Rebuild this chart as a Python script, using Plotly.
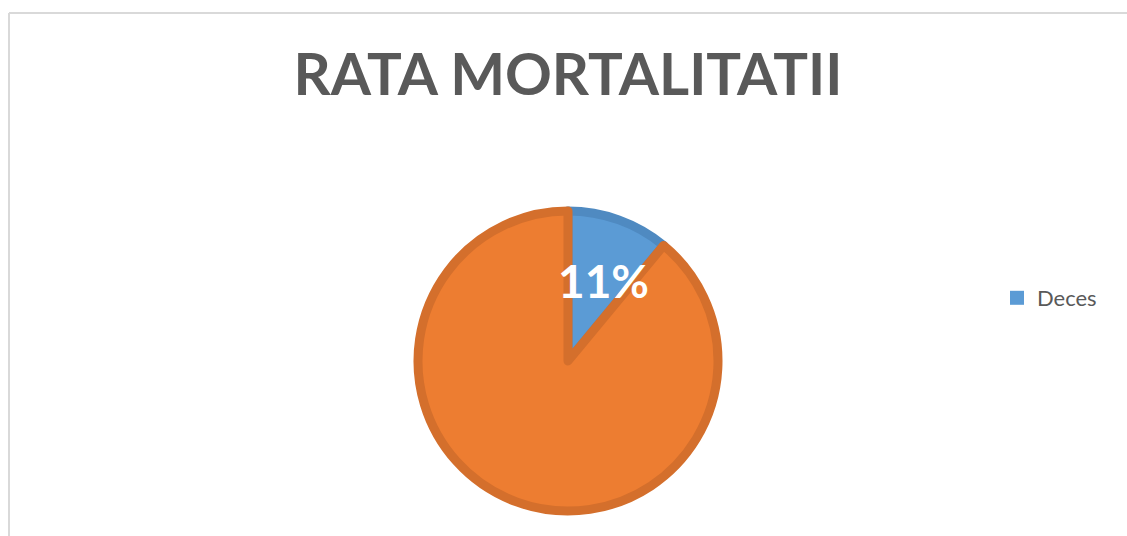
import math
import plotly.graph_objects as go

labels = ["Deces", "Supravietuitori"]
values = [11, 89]
colors = ["#5B9BD5", "#ED7D31"]
border_colors = ["#4F8AC1", "#D46F2C"]
title_text = "RATA MORTALITATII"

W, H = 1127, 536
cx, cy, R = 568, 361, 150  # pie centre/radius in figure pixels

dom_x = [(cx - R) / W, (cx + R) / W]
dom_y = [1 - (cy + R) / H, 1 - (cy - R) / H]

fig = go.Figure()
fig.add_trace(go.Pie(
    labels=labels, values=values, sort=False, direction="clockwise", rotation=0,
    marker=dict(colors=colors, line=dict(color=border_colors, width=9)),
    textinfo="none", hoverinfo="label+percent", showlegend=False,
    domain=dict(x=dom_x, y=dom_y),
))
# legend entry only for the first category
fig.add_trace(go.Scatter(
    x=[None], y=[None], mode="markers", name=labels[0],
    marker=dict(symbol="square", size=14, color=colors[0]),
))

total = sum(values)
frac = values[0] / total
ang = 2 * math.pi * frac / 2
px = cx + math.sin(ang) * R * 0.57
py = cy - math.cos(ang) * R * 0.57
fig.add_annotation(
    x=px / W, y=1 - py / H, xref="paper", yref="paper",
    text=f"<b>{round(frac * 100)}%</b>", showarrow=False,
    font=dict(family="Lato", size=46, color="white"),
    xanchor="center", yanchor="middle", xshift=7,
)

fig.update_layout(
    width=W, height=H,
    margin=dict(l=0, r=0, t=0, b=0),
    paper_bgcolor="white", plot_bgcolor="white",
    title=dict(text=f"<b>{title_text}</b>", x=cx / W, xanchor="center",
               y=1 - 75 / H, yanchor="middle",
               font=dict(family="Lato", size=58, color="#595959")),
    xaxis=dict(visible=False), yaxis=dict(visible=False),
    legend=dict(x=997 / W, y=1 - 298 / H, xanchor="left", yanchor="middle",
                font=dict(family="Lato", size=22, color="#595959"),
                bgcolor="rgba(0,0,0,0)"),
    shapes=[
        dict(type="line", xref="paper", yref="paper", x0=9 / W, x1=1,
             y0=1 - 13 / H, y1=1 - 13 / H,
             line=dict(color="#D9D9D9", width=2)),
        dict(type="line", xref="paper", yref="paper", x0=9 / W, x1=9 / W,
             y0=0, y1=1 - 13 / H,
             line=dict(color="#D9D9D9", width=2)),
    ],
)

fig.write_html(
    "out.html",
    config={"displayModeBar": False},
    post_script="document.body.style.margin='0';document.body.style.overflow='hidden';",
)
